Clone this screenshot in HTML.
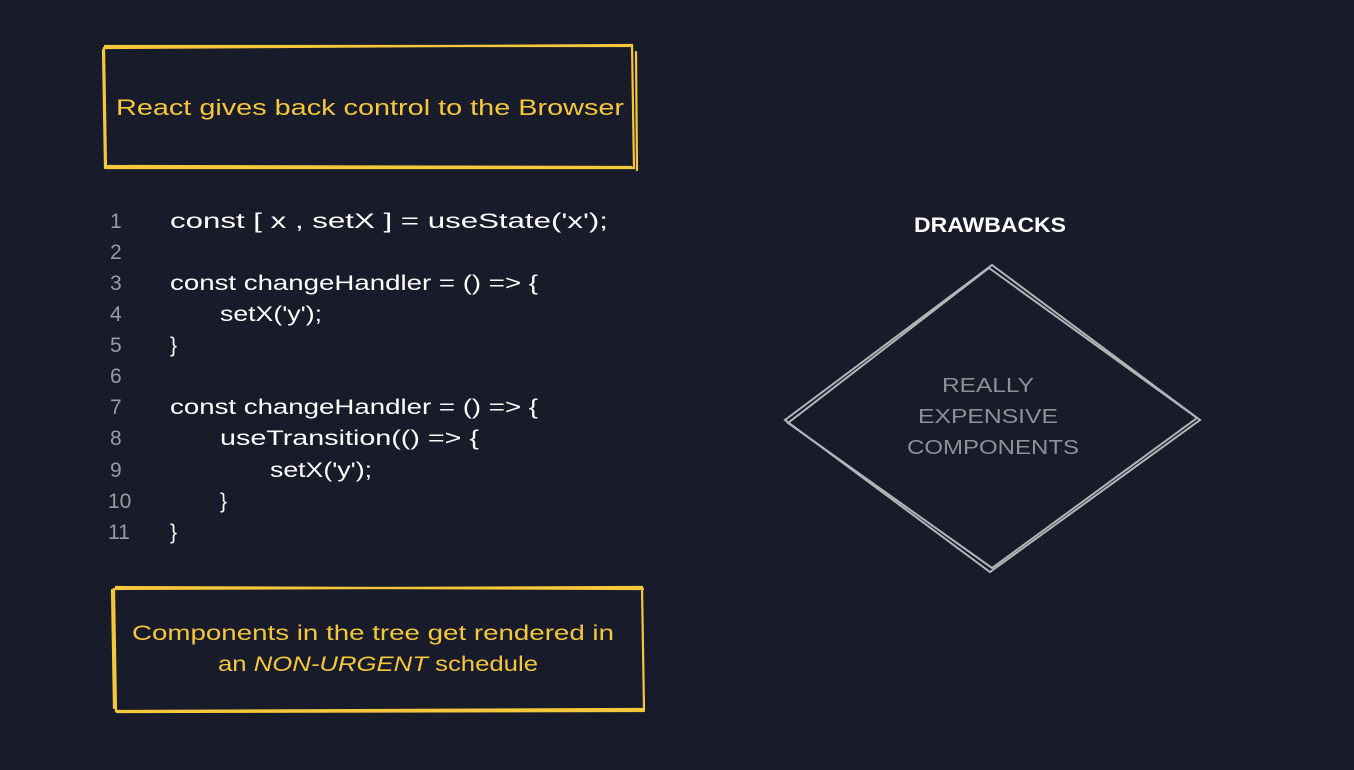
<!DOCTYPE html>
<html><head><meta charset="utf-8"><style>
html,body{margin:0;padding:0;background:#171b2a;}
svg{display:block}
text{font-family:"Liberation Sans",sans-serif;}
</style></head><body>
<svg width="1354" height="770" viewBox="0 0 1354 770" xmlns="http://www.w3.org/2000/svg">
<rect width="1354" height="770" fill="#171b2a"/>
<g fill="none" stroke="#f5c73a" stroke-width="2.2" stroke-linecap="round">
<path d="M104 48 L632 45 L634 168 L106 168 Z"/>
<path d="M105 46 L630 46 M636 52 L637 170 M108 166 L631 167 M103 50 L105 168"/>
<path d="M114 589 L642 587 L644 709 L116 711 Z"/>
<path d="M116 587 L643 589 M112 590 L114 708 M117 712 L644 711"/>
</g>
<text x="370" y="115" fill="#f5c73a" font-size="22" text-anchor="middle" textLength="508" lengthAdjust="spacingAndGlyphs">React gives back control to the Browser</text>
<text x="373" y="640" fill="#f5c73a" font-size="21" text-anchor="middle" textLength="482" lengthAdjust="spacingAndGlyphs">Components in the tree get rendered in</text>
<text x="378" y="671" fill="#f5c73a" font-size="21" text-anchor="middle" textLength="320" lengthAdjust="spacingAndGlyphs">an <tspan font-style="italic">NON-URGENT</tspan> schedule</text>
<g fill="#9a9ca3" font-size="21">
<text x="110" y="228">1</text><text x="110" y="259">2</text><text x="110" y="290">3</text>
<text x="110" y="321">4</text><text x="110" y="352">5</text><text x="110" y="383">6</text>
<text x="110" y="414">7</text><text x="110" y="445">8</text><text x="110" y="477">9</text>
<text x="108" y="508">10</text><text x="108" y="539">11</text>
</g>
<g fill="#ffffff" font-size="21">
<text x="170" y="228" textLength="438" lengthAdjust="spacingAndGlyphs">const [ x , setX ] = useState('x');</text>
<text x="170" y="290" textLength="368" lengthAdjust="spacingAndGlyphs">const changeHandler = () =&gt; {</text>
<text x="220" y="321" textLength="102" lengthAdjust="spacingAndGlyphs">setX('y');</text>
<text x="170" y="352">}</text>
<text x="170" y="414" textLength="368" lengthAdjust="spacingAndGlyphs">const changeHandler = () =&gt; {</text>
<text x="220" y="445" textLength="259" lengthAdjust="spacingAndGlyphs">useTransition(() =&gt; {</text>
<text x="270" y="477" textLength="102" lengthAdjust="spacingAndGlyphs">setX('y');</text>
<text x="220" y="508">}</text>
<text x="170" y="539">}</text>
</g>
<text x="990" y="232" fill="#ffffff" font-size="21" font-weight="bold" text-anchor="middle" textLength="152" lengthAdjust="spacingAndGlyphs">DRAWBACKS</text>
<g fill="none" stroke="#b4b4b8" stroke-width="2">
<path d="M992 265 L1200 420 L990 572 L785 420 Z"/>
<path d="M989 268 L1197 418 L992 568 L788 423 Z"/>
</g>
<g fill="#8e9096" font-size="20" text-anchor="middle">
<text x="988" y="392" textLength="92" lengthAdjust="spacingAndGlyphs">REALLY</text>
<text x="988" y="423" textLength="140" lengthAdjust="spacingAndGlyphs">EXPENSIVE</text>
<text x="993" y="454" textLength="172" lengthAdjust="spacingAndGlyphs">COMPONENTS</text>
</g>
</svg>
</body></html>
